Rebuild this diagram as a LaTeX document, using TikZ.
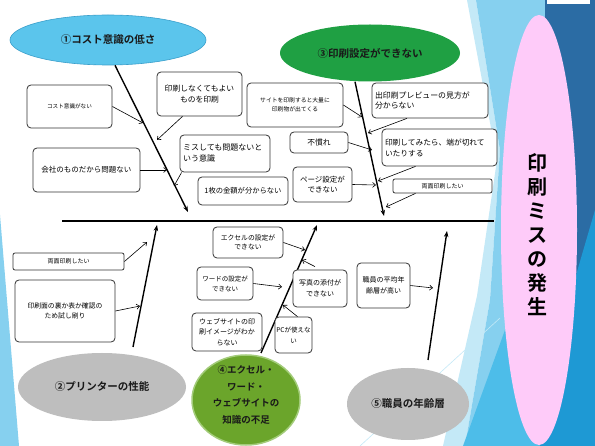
\documentclass[tikz,border=0pt]{standalone}
\usepackage{fontspec}
\setmainfont{Noto Sans CJK JP}[BoldFont={Noto Sans CJK JP Bold}]
\usetikzlibrary{arrows.meta,shapes.geometric}
\definecolor{skyb}{HTML}{5BC5EC}
\definecolor{skyd}{HTML}{3A9FCB}
\definecolor{grn}{HTML}{1FA043}
\definecolor{olive}{HTML}{6BA52B}
\definecolor{oliveg}{HTML}{A3CC7A}
\definecolor{gry}{HTML}{BEBEBE}
\definecolor{pinkb}{HTML}{FECBF9}
\definecolor{lblue}{HTML}{86D0EF}
\definecolor{pblue}{HTML}{C4E9F7}
\definecolor{mblue}{HTML}{4DBDE9}
\definecolor{bblue}{HTML}{1E99D4}
\definecolor{dblue}{HTML}{2B6CA4}
\tikzset{
 box/.style={draw=black!80, line width=0.8pt, rounded corners=4pt, fill=white, align=center, inner sep=1pt},
 arr/.style={line width=0.6pt, -{Straight Barb[length=3pt,width=5pt]}},
 bone/.style={line width=1.4pt, -{Stealth[length=6pt,width=4.5pt]}},
 ell/.style={ellipse, inner sep=0pt, align=center, text=black!90, font=\bfseries\fontsize{10.5pt}{13pt}\selectfont},
}
\begin{document}
\begin{tikzpicture}[x=1pt,y=-1pt]
\useasboundingbox (0,0) rectangle (595,446);
\fill[white] (0,0) rectangle (595,446);
% background
\fill[lblue] (0,215) -- (19,446) -- (0,446) -- cycle;
\fill[pblue] (467,0) -- (476,0) -- (500,150) -- (490,300) -- (465,446) -- (443,446) -- (477,296) -- (497,160) -- cycle;
\fill[lblue] (476,0) -- (545,0) -- (545,446) -- (465,446) -- (490,300) -- (500,150) -- cycle;
\fill[dblue] (545,0) rectangle (595,446);
\fill[mblue] (463,446) -- (505,330) -- (560,446) -- cycle;
\fill[bblue] (595,210) -- (595,446) -- (540,446) -- (560,330) -- cycle;
\draw[pblue, line width=0.6pt] (360,446) -- (500,318);
\fill[white] (547,0) rectangle (590,4);
\node[ellipse, fill=pinkb, minimum width=76pt, minimum height=430pt, inner sep=0pt] (goal) at (539,230) {};
\node[align=center, font=\bfseries\fontsize{20pt}{24pt}\selectfont] (goaltxt) at (537,235) {印\\刷\\ミ\\ス\\の\\発\\生};
% spine
\coordinate (spL) at (62,221);
\coordinate (spR) at (494,221);
\draw[line width=2.6pt] (spL) -- (spR);
% category ellipses
\node[ell, fill=skyb, draw=skyd, line width=0.6pt, minimum width=196pt, minimum height=50pt] (e1) at (108,40) {①コスト意識の低さ};
\node[ell, fill=grn, minimum width=180pt, minimum height=57pt] (e3) at (370,53) {③印刷設定ができない};
\node[ell, fill=gry, minimum width=168pt, minimum height=68pt] (e2) at (102,387) {②プリンターの性能};
\node[ell, fill=olive, draw=oliveg, line width=1.5pt, minimum width=108pt, minimum height=90pt] (e4) at (246,400) {};
\node[align=center, text=black!90, font=\bfseries\fontsize{9.5pt}{16.5pt}\selectfont] (e4t) at (246,395) {④エクセル・\\ワード・\\ウェブサイトの\\知識の不足};
\node[ell, fill=gry, minimum width=122pt, minimum height=72pt] (e5) at (408,404) {⑤職員の年齢層};
% bones
\coordinate (t1) at (188,212);
\coordinate (t3) at (384,216);
\coordinate (t2) at (157,225);
\coordinate (t4) at (317,225);
\coordinate (t5) at (447,231);
\coordinate (s2) at (133,347);
\coordinate (s4) at (261,353);
\coordinate (s5) at (428,360);
\draw[bone] ([xshift=7pt]e1.south) -- (t1);
\draw[bone] ([xshift=-15pt]e3.south) -- (t3);
\draw[bone] (s2) -- (t2);
\draw[bone] (s4) -- (t4);
\draw[bone] (s5) -- (t5);
% boxes
\node[box, minimum width=85pt, minimum height=43pt, font=\fontsize{5.6pt}{7pt}\selectfont] (b1) at (69.5,106.5) {コスト意識がない};
\node[box, minimum width=85pt, minimum height=44pt, font=\fontsize{7.8pt}{11pt}\selectfont] (b2) at (199.5,94) {印刷しなくてもよい\\ものを印刷};
\node[box, text width=84pt, inner xsep=3pt, align=left, minimum height=37pt, font=\fontsize{8pt}{11pt}\selectfont] (b3) at (225,153.5) {ミスしても問題ないと\\いう意識};
\node[box, minimum width=107pt, minimum height=44pt, font=\fontsize{7.5pt}{9pt}\selectfont] (b4) at (86.5,170) {会社のものだから問題ない};
\node[box, minimum width=90pt, minimum height=28pt, font=\fontsize{7.3pt}{9pt}\selectfont] (b5) at (243,191) {1枚の金額が分からない};
\node[box, minimum width=96pt, minimum height=44pt, font=\fontsize{5.8pt}{9pt}\selectfont] (b6) at (295,105) {サイトを印刷すると大量に\\印刷物が出てくる};
\node[box, text width=110pt, inner xsep=3pt, align=left, minimum height=35pt, font=\fontsize{7.9pt}{10.5pt}\selectfont] (b7) at (430,100.5) {出印刷プレビューの見方が\\分からない};
\node[box, minimum width=58pt, minimum height=21pt, font=\fontsize{7.8pt}{9pt}\selectfont] (b8) at (319,142.5) {不慣れ};
\node[box, text width=109pt, inner xsep=3pt, align=left, minimum height=37pt, font=\fontsize{7.7pt}{11pt}\selectfont] (b9) at (439.5,147.5) {印刷してみたら、端が切れて\\いたりする};
\node[box, minimum width=59pt, minimum height=35pt, font=\fontsize{7.5pt}{10.5pt}\selectfont] (b10) at (322.5,184.5) {ページ設定が\\できない};
\node[box, rounded corners=2pt, minimum width=99pt, minimum height=14pt, font=\fontsize{6pt}{7pt}\selectfont] (b11) at (442.5,186) {両面印刷したい};
\node[box, rounded corners=2pt, minimum width=111pt, minimum height=17pt, font=\fontsize{6pt}{7pt}\selectfont] (b12) at (68.5,261.5) {両面印刷したい};
\node[box, minimum width=100pt, minimum height=62pt, font=\fontsize{6.8pt}{10pt}\selectfont] (b13) at (65,311) {印刷面の裏か表か確認の\\ため試し刷り};
\node[box, minimum width=70pt, minimum height=31pt, font=\fontsize{6.8pt}{9.5pt}\selectfont] (b14) at (248,242.5) {エクセルの設定が\\できない};
\node[box, minimum width=56pt, minimum height=33pt, font=\fontsize{6.5pt}{10pt}\selectfont] (b15) at (225,283.5) {ワードの設定が\\できない};
\node[box, minimum width=54pt, minimum height=37pt, font=\fontsize{7pt}{11pt}\selectfont] (b16) at (320,288.5) {写真の添付が\\できない};
\node[box, minimum width=70pt, minimum height=38pt, font=\fontsize{7pt}{10.5pt}\selectfont] (b17) at (227,332) {ウェブサイトの印\\刷イメージがわか\\らない};
\node[box, minimum width=37pt, minimum height=36pt, font=\fontsize{6.5pt}{11pt}\selectfont] (b18) at (293.5,335) {PCが使えな\\い};
\node[box, minimum width=53pt, minimum height=45pt, font=\fontsize{7pt}{11pt}\selectfont] (b19) at (383.5,285.5) {職員の平均年\\齢層が高い};
% arrow targets
\coordinate (a1) at (143,123);
\coordinate (a2) at (157,140);
\coordinate (a3) at (174,186);
\coordinate (a4) at (167,170);
\coordinate (a6) at (362,117);
\coordinate (a7) at (368,133);
\coordinate (a8) at (372,150);
\coordinate (a9) at (378,181);
\coordinate (a10) at (376,185);
\coordinate (a11) at (386,207);
\coordinate (a12) at (147,242);
\coordinate (a13) at (140,306);
\coordinate (a14) at (305,250);
\coordinate (a15) at (282,287);
\coordinate (a16) at (302,260);
\coordinate (a18) at (283,305);
\coordinate (a19) at (433,288);
% small arrows
\draw[arr] (b1.east) -- (a1);
\draw[arr] ([xshift=-17pt]b2.south) -- (a2);
\draw[arr] ([xshift=2pt]b3.south west) -- (a3);
\draw[arr] (b4.east) -- (a4);
\draw[arr] (b6.east) -- (a6);
\draw[arr] ([xshift=-23pt]b7.south) -- (a7);
\draw[arr] (b8.east) -- (a8);
\draw[arr] ([xshift=-24pt]b9.south) -- (a9);
\draw[arr] (b10.east) -- (a10);
\draw[arr] ([xshift=-27pt]b11.south) -- (a11);
\draw[arr] (b12.east) -- (a12);
\draw[arr] (b13.east) -- (a13);
\draw[arr] (b14.east) -- (a14);
\draw[arr] (b15.east) -- (a15);
\draw[arr] ([xshift=-5pt, yshift=3pt]b16.north) -- (a16);
\draw[arr] ([xshift=4pt]b18.north) -- (a18);
\draw[arr] (b19.east) -- (a19);
\end{tikzpicture}
\end{document}
